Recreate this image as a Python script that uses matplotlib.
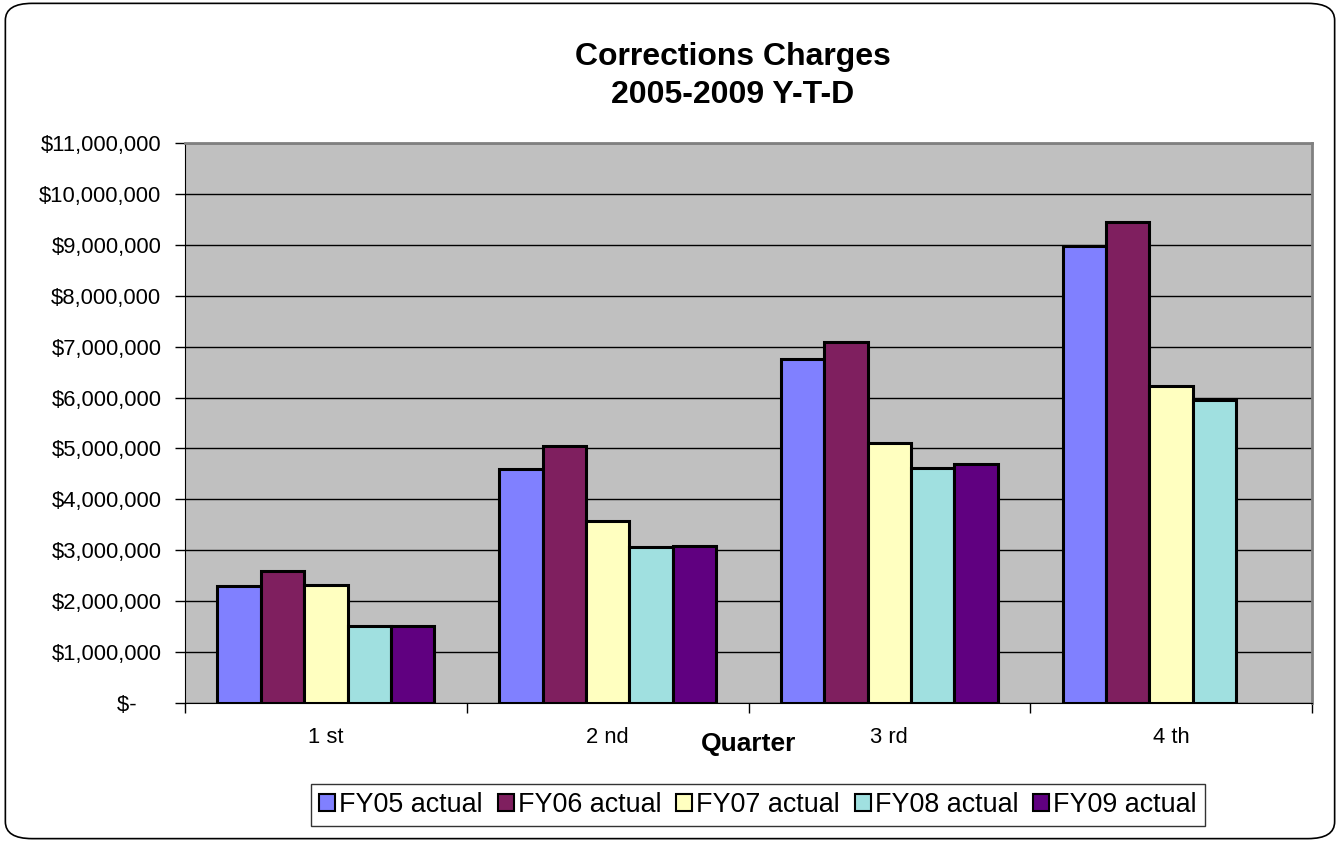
import matplotlib
matplotlib.use("Agg")
import matplotlib.pyplot as plt
import numpy as np
from matplotlib.patches import FancyBboxPatch

plt.rcParams['font.family'] = ['Liberation Sans', 'DejaVu Sans']

quarters = ["1 st", "2 nd", "3 rd", "4 th"]
series = ["FY05 actual", "FY06 actual", "FY07 actual", "FY08 actual", "FY09 actual"]
fy05 = [2300000, 4600000, 6760000, 8980000]
fy06 = [2590000, 5050000, 7090000, 9450000]
fy07 = [2320000, 3580000, 5110000, 6230000]
fy08 = [1510000, 3060000, 4620000, 5950000]
fy09 = [1520000, 3080000, 4700000, np.nan]
colors = ["#8080FF", "#7F1F5F", "#FFFFC0", "#A0E0E0", "#600080"]
yticks = list(range(0, 11000001, 1000000))

fig = plt.figure(figsize=(13.4, 8.42), dpi=100)
border = FancyBboxPatch((0.004, 0.004), 0.992, 0.992, boxstyle="round,pad=0,rounding_size=0.02",
                        transform=fig.transFigure, fill=False, edgecolor="black", linewidth=1.2)
fig.patches.append(border)

ax = fig.add_axes([185/1340, (842-703)/842, (1312-185)/1340, (703-143)/842])
ax.set_facecolor("#C0C0C0")

data = [fy05, fy06, fy07, fy08, fy09]
x = np.arange(len(quarters))
w = 0.154
for i, (vals, c, name) in enumerate(zip(data, colors, series)):
    ax.bar(x + (i - 2) * w, vals, width=w, color=c, edgecolor="black", linewidth=2.2,
           label=name, zorder=3)

ax.set_xlim(-0.5, 3.5)
ax.set_ylim(0, 11000000)
ax.set_yticks(yticks)
ax.set_yticklabels(["$-    "] + [f"${v:,.0f}" for v in yticks[1:]], fontsize=15.8)
ax.yaxis.grid(True, color="black", linewidth=1.0, zorder=1)
ax.set_axisbelow(True)

ax.set_xticks(x)
ax.set_xticklabels(quarters, fontsize=15.8)
ax.tick_params(axis='x', length=0, pad=17)
ax.set_xticks(np.arange(-0.5, 4.0, 1.0), minor=True)
ax.tick_params(axis='x', which='minor', length=7, width=1, color="black")
ax.tick_params(axis='y', length=7, width=1, pad=10, direction='out')

for s in ["top", "right"]:
    ax.spines[s].set_color("#808080")
    ax.spines[s].set_linewidth(2)
ax.spines["left"].set_color("black")
ax.spines["bottom"].set_color("black")

ax.set_xlabel("Quarter", fontsize=19, fontweight="bold", labelpad=-11)

fig.text(0.547, 1 - 57/842, "Corrections Charges", ha="center", va="center", fontsize=23, fontweight="bold")
fig.text(0.547, 1 - 95/842, "2005-2009 Y-T-D", ha="center", va="center", fontsize=23, fontweight="bold")

leg = fig.legend(loc="center", bbox_to_anchor=(758/1340, 1 - 805/842), ncol=5, fontsize=19.4,
                 frameon=True, fancybox=False, edgecolor="black", handlelength=0.6, handleheight=0.6,
                 handletextpad=0.15, columnspacing=0.55, borderpad=0.3)
leg.get_frame().set_linewidth(1.0)
for h in leg.legend_handles:
    h.set_linewidth(1.5)

fig.savefig("out.png", dpi=100)
